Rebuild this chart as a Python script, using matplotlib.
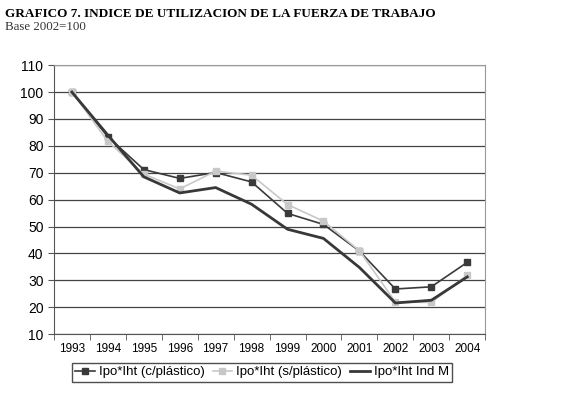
import matplotlib
matplotlib.use('Agg')
import matplotlib.pyplot as plt
import numpy as np

years = ['1993', '1994', '1995', '1996', '1997', '1998', '1999', '2000', '2001', '2002', '2003', '2004']
con_plastico = [100, 83.4, 71.2, 67.9, 70.1, 66.6, 54.9, 50.8, 40.9, 26.8, 27.6, 36.7]
sin_plastico = [100, 81.7, 69.5, 64.0, 70.6, 69.1, 58.2, 52.0, 41.0, 22.0, 21.8, 31.9]
ind_m = [100, 84.0, 68.5, 62.5, 64.5, 58.3, 49.0, 45.6, 34.8, 21.6, 22.6, 31.3]

plt.rcParams['font.family'] = ['Liberation Sans', 'DejaVu Sans']

fig = plt.figure(figsize=(5.86, 3.95), dpi=100)
ax = fig.add_axes([0.092, 0.154, 0.736, 0.681])

x = np.arange(len(years))
ax.plot(x, con_plastico, color='#3a3a3a', lw=1.2, marker='s', ms=4.5, label='Ipo*Iht (c/plástico)')
ax.plot(x, sin_plastico, color='#c8c8c8', lw=1.2, marker='s', ms=4.5, label='Ipo*Iht (s/plástico)')
ax.plot(x, ind_m, color='#383838', lw=2, label='Ipo*Iht Ind M')

ax.set_ylim(10, 110)
ax.set_yticks(range(10, 111, 10))
ax.set_xlim(-0.5, len(years) - 0.5)
ax.set_xticks(x)
ax.set_xticklabels(years, fontsize=8.5)
ax.set_xticks(np.arange(-0.5, len(years)), minor=True)
ax.tick_params(axis='x', which='major', length=0, pad=6)
ax.tick_params(axis='x', which='minor', length=4, color='#555555')
ax.tick_params(axis='y', labelsize=10, length=4, color='#555555')
ax.yaxis.grid(True, color='#444444', lw=0.9)
ax.set_axisbelow(True)
for side in ['top', 'right']:
    ax.spines[side].set_color('#999999')
for side in ['left', 'bottom']:
    ax.spines[side].set_color('#555555')

fig.legend(loc='center', bbox_to_anchor=(0.447, 0.058), ncol=3, fontsize=9.5,
           frameon=True, fancybox=False, edgecolor='#222222', handlelength=1.5,
           handletextpad=0.3, columnspacing=0.6, borderpad=0.25)

fig.text(0.008, 0.965, 'GRAFICO 7. INDICE DE UTILIZACION DE LA FUERZA DE TRABAJO',
         family='Liberation Serif', weight='bold', fontsize=9.5, va='center')
fig.text(0.008, 0.932, 'Base 2002=100', family='Liberation Serif', fontsize=9.3,
         va='center', color='#333333')

plt.savefig('out.png', dpi=100)
